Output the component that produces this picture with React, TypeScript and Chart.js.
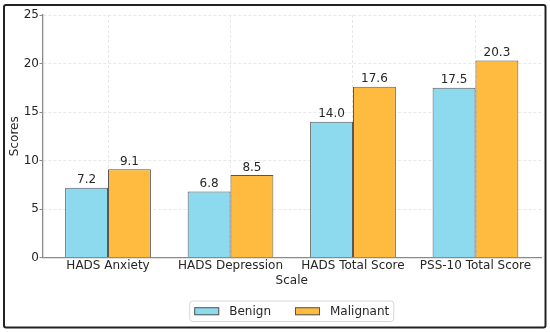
import React, { useEffect, useRef } from "react";
import { Chart, registerables } from "chart.js";

Chart.register(...registerables);

const categories = ["HADS Anxiety", "HADS Depression", "HADS Total Score", "PSS-10 Total Score"];
const seriesNames = ["Benign", "Malignant"];
const benignValues = [7.2, 6.8, 14.0, 17.5];
const malignantValues = [9.1, 8.5, 17.6, 20.3];
const yTickValues = [0, 5, 10, 15, 20, 25];
const seriesColors = ["#8DD9EE", "#FFBA40"];

const FONT = "'DejaVu Sans', 'Liberation Sans', sans-serif";
const TEXT = "#262626";

const valueLabelPlugin = {
  id: "valueLabels",
  afterDatasetsDraw(chart: any) {
    const ctx = chart.ctx;
    ctx.save();
    ctx.font = `12px ${FONT}`;
    ctx.fillStyle = TEXT;
    ctx.textAlign = "center";
    ctx.textBaseline = "alphabetic";
    chart.data.datasets.forEach((ds: any, i: number) => {
      const meta = chart.getDatasetMeta(i);
      meta.data.forEach((el: any, j: number) => {
        const v = ds.data[j].y;
        ctx.fillText(v.toFixed(1), el.x, el.y - 4.5);
      });
    });
    ctx.restore();
  },
};

const legendPlugin = {
  id: "boxLegend",
  afterDraw(chart: any) {
    const ctx = chart.ctx;
    const area = chart.chartArea;
    ctx.save();
    ctx.font = `12px ${FONT}`;
    const pad = 4.5;
    const sw = 25;
    const sh = 8;
    const gap = 10;
    const itemGap = 24;
    const items = chart.data.datasets.map((ds: any) => ({
      label: ds.label,
      color: ds.backgroundColor,
      w: ctx.measureText(ds.label).width,
    }));
    let total = pad * 2;
    items.forEach((it: any, i: number) => {
      total += sw + gap + it.w + (i > 0 ? itemGap : 0);
    });
    const cx = (area.left + area.right) / 2;
    const left = cx - total / 2;
    const top = 301;
    const h = 20.5;
    ctx.beginPath();
    ctx.roundRect(left, top, total, h, 3);
    ctx.fillStyle = "rgba(255,255,255,0.8)";
    ctx.fill();
    ctx.strokeStyle = "#d6d6d6";
    ctx.lineWidth = 1;
    ctx.stroke();
    let x = left + pad;
    const cy = top + h / 2;
    items.forEach((it: any, i: number) => {
      if (i > 0) x += itemGap;
      ctx.fillStyle = it.color;
      ctx.fillRect(x, cy - sh / 2, sw, sh);
      ctx.strokeStyle = "#555555";
      ctx.lineWidth = 1;
      ctx.strokeRect(x + 0.5, cy - sh / 2 + 0.5, sw - 1, sh - 1);
      x += sw + gap;
      ctx.fillStyle = TEXT;
      ctx.textAlign = "left";
      ctx.textBaseline = "middle";
      ctx.fillText(it.label, x, cy + 0.5);
      x += it.w;
    });
    ctx.restore();
  },
};

const framePlugin = {
  id: "outerFrame",
  afterDraw(chart: any) {
    const ctx = chart.ctx;
    ctx.save();
    ctx.beginPath();
    ctx.roundRect(4, 5, 541.5, 322.5, 2);
    ctx.strokeStyle = "#222222";
    ctx.lineWidth = 2;
    ctx.stroke();
    ctx.restore();
  },
};

export default function App() {
  const ref = useRef<HTMLCanvasElement | null>(null);

  useEffect(() => {
    if (!ref.current) return;
    const gridColor = "#e2e2e2";
    const axisColor = "#8a8a8a";
    const chart = new Chart(ref.current, {
      type: "bar",
      data: {
        datasets: [
          {
            label: seriesNames[0],
            data: benignValues.map((v, i) => ({ x: i, y: v })),
            backgroundColor: seriesColors[0],
            borderColor: "#555555",
            borderWidth: 1,
            categoryPercentage: 0.7,
            barPercentage: 1,
          },
          {
            label: seriesNames[1],
            data: malignantValues.map((v, i) => ({ x: i, y: v })),
            backgroundColor: seriesColors[1],
            borderColor: "#555555",
            borderWidth: 1,
            categoryPercentage: 0.7,
            barPercentage: 1,
          },
        ],
      },
      options: {
        animation: false,
        responsive: false,
        maintainAspectRatio: false,
        devicePixelRatio: 1,
        layout: { padding: { left: 4, top: 15, right: 9, bottom: 39.8 } },
        plugins: {
          legend: { display: false },
          tooltip: { enabled: false },
        },
        scales: {
          x: {
            type: "linear",
            min: -0.535,
            max: 3.535,
            offset: false,
            afterBuildTicks: (s: any) => {
              s.ticks = categories.map((_, i) => ({ value: i }));
            },
            afterFit: (s: any) => {
              s.height = 34.7;
            },
            ticks: {
              callback: (v: any) => categories[v] ?? "",
              autoSkip: false,
              maxRotation: 0,
              minRotation: 0,
              padding: 1,
              color: TEXT,
              font: { family: FONT, size: 12 },
              includeBounds: false,
            },
            grid: {
              offset: false,
              color: gridColor,
              lineWidth: 0.8,
              drawTicks: false,
            },
            border: { color: axisColor, width: 1.3, dash: [3, 2] },
            title: {
              display: true,
              text: "Scale",
              color: TEXT,
              font: { family: FONT, size: 12 },
              padding: { top: 0, bottom: 4 },
            },
          },
          y: {
            min: 0,
            max: 25,
            afterBuildTicks: (s: any) => {
              s.ticks = yTickValues.map((v) => ({ value: v }));
            },
            afterFit: (s: any) => {
              s.width = 38.5;
            },
            ticks: {
              padding: 0.5,
              color: TEXT,
              font: { family: FONT, size: 12 },
            },
            grid: {
              color: gridColor,
              lineWidth: 0.8,
              tickLength: 3,
              tickColor: axisColor,
              tickWidth: 1,
            },
            border: { color: axisColor, width: 1.3, dash: [3, 2] },
            title: {
              display: true,
              text: "Scores",
              color: TEXT,
              font: { family: FONT, size: 12 },
              padding: { top: 3.5, bottom: 0 },
            },
          },
        },
      } as any,
      plugins: [valueLabelPlugin, legendPlugin, framePlugin],
    });
    return () => chart.destroy();
  }, []);

  return (
    <div style={{ position: "absolute", left: 0, top: 0, width: 550, height: 332, background: "#ffffff" }}>
      <canvas ref={ref} width={550} height={332} style={{ display: "block", width: 550, height: 332 }} />
    </div>
  );
}
